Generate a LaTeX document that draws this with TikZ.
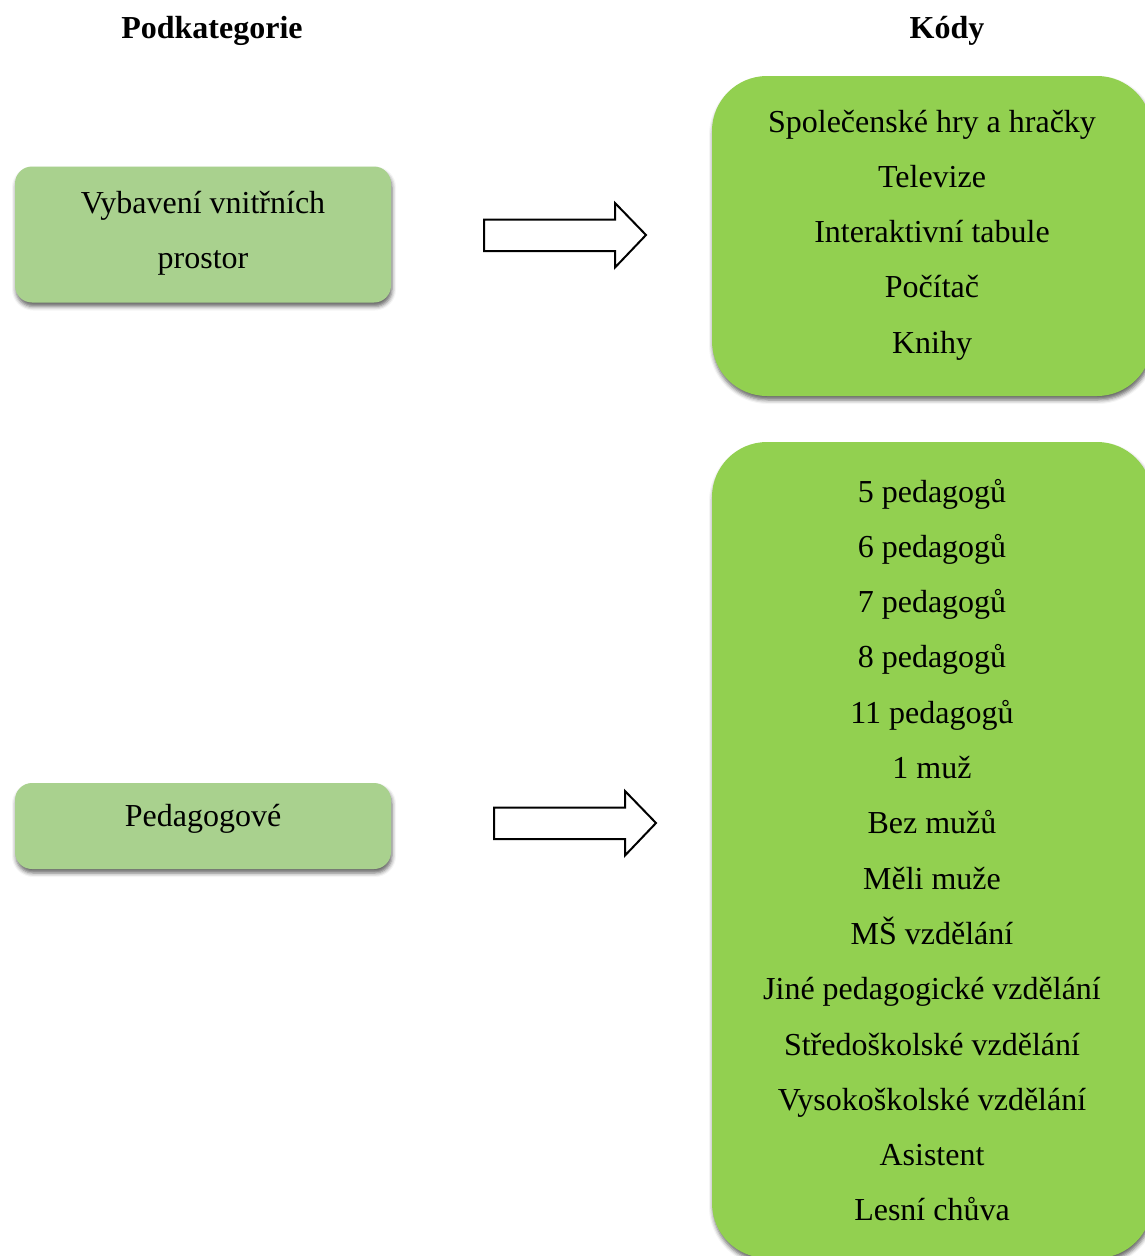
\documentclass[tikz,border=0pt]{standalone}
\usepackage{fontspec}
\setmainfont{Liberation Serif}
\usetikzlibrary{shadows.blur}
\definecolor{lightgreen}{HTML}{A9D18E}
\definecolor{brightgreen}{HTML}{92D050}
\tikzset{
  subbox/.style={rectangle, rounded corners=17pt, fill=lightgreen, inner sep=0pt,
    blur shadow={shadow xshift=1pt, shadow yshift=-4pt, shadow blur radius=4pt, shadow opacity=60}},
  codebox/.style={rectangle, rounded corners=55pt, fill=brightgreen, inner sep=0pt,
    blur shadow={shadow xshift=1pt, shadow yshift=-4pt, shadow blur radius=4pt, shadow opacity=60}},
  txt/.style={anchor=base, inner sep=0pt, font=\fontsize{32}{38}\selectfont},
  headtxt/.style={anchor=base, inner sep=0pt, font=\fontsize{32}{38}\selectfont\bfseries},
  blockarrow/.style={draw=black, line width=2pt, fill=white, line join=miter},
}
\begin{document}
\begin{tikzpicture}[x=1pt, y=-1pt]
\useasboundingbox (0,0) rectangle (1145,1256);
\clip (0,0) rectangle (1145,1256);
% headers
\node[headtxt] (h1) at (212,38.5) {Podkategorie};
\node[headtxt] (h2) at (947,38.5) {Kódy};
% boxes
\node[subbox, minimum width=376pt, minimum height=136pt] (subA) at (203,234.5) {};
\node[subbox, minimum width=376pt, minimum height=86pt] (subB) at (203,826) {};
\node[codebox, minimum width=440pt, minimum height=320pt] (codeC) at (932,236) {};
\node[codebox, minimum width=440pt, minimum height=816pt] (codeD) at (932,850) {};
% box texts
\node[txt] (a1) at (203,213) {Vybavení vnitřních};
\node[txt] (a2) at (203,268.3) {prostor};
\node[txt] (b1) at (203,826) {Pedagogové};
\foreach \t [count=\i] in {Společenské hry a hračky,Televize,Interaktivní tabule,Počítač,Knihy}
  \node[txt] (c\i) at ({932},{132+55.3*(\i-1)}) {\t};
\foreach \t [count=\i] in {5 pedagogů,6 pedagogů,7 pedagogů,8 pedagogů,11 pedagogů,1 muž,Bez mužů,Měli muže,MŠ vzdělání,Jiné pedagogické vzdělání,Středoškolské vzdělání,Vysokoškolské vzdělání,Asistent,Lesní chůva}
  \node[txt] (d\i) at ({932},{502+55.3*(\i-1)}) {\t};
% block arrows
\draw[blockarrow] (484,219.5) -- (615,219.5) -- (615,203) -- (646,235) -- (615,267.5) -- (615,251) -- (484,251) -- cycle;
\draw[blockarrow] (494,807.5) -- (625,807.5) -- (625,791) -- (656,823) -- (625,855.5) -- (625,839) -- (494,839) -- cycle;
\end{tikzpicture}
\end{document}
